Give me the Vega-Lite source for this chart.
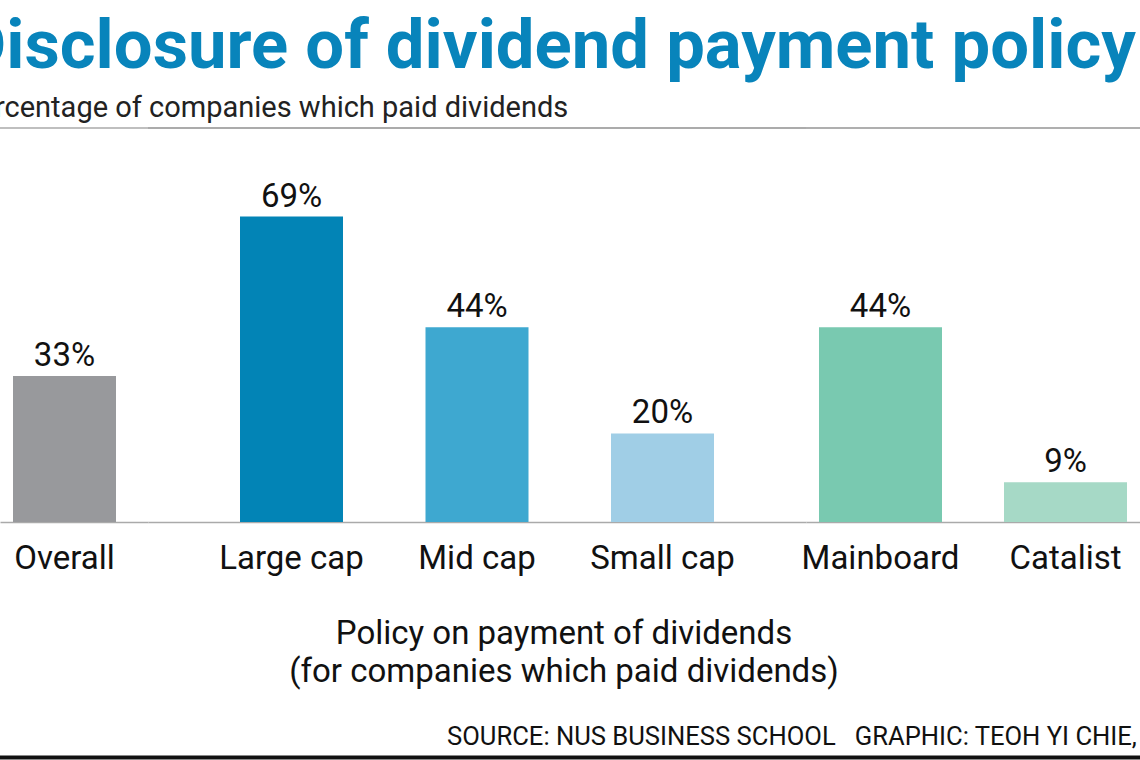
{
  "$schema": "https://vega.github.io/schema/vega-lite/v6.json",
  "padding": {"left": -39, "top": 13, "right": 0, "bottom": 0},
  "background": "white",
  "config": {
    "font": "Roboto",
    "view": {"stroke": null},
    "axis": {"grid": false}
  },
  "title": {
    "text": "Disclosure of dividend payment policy",
    "subtitle": "Percentage of companies which paid dividends",
    "anchor": "start",
    "dx": -37,
    "font": "Roboto",
    "fontSize": 68.8,
    "fontWeight": "bold",
    "color": "#0884bb",
    "subtitleFont": "Roboto",
    "subtitleFontSize": 29,
    "subtitleColor": "#222222",
    "subtitlePadding": 11,
    "offset": 3
  },
  "data": {
    "values": [
      {"group": "Overall", "category": "Overall", "pct": 0.33},
      {"group": "Size", "category": "Large cap", "pct": 0.69},
      {"group": "Size", "category": "Mid cap", "pct": 0.44},
      {"group": "Size", "category": "Small cap", "pct": 0.20},
      {"group": "Board", "category": "Mainboard", "pct": 0.44},
      {"group": "Board", "category": "Catalist", "pct": 0.09}
    ]
  },
  "spacing": 34,
  "vconcat": [
    {
      "title": {
        "text": ["Policy on payment of dividends", "(for companies which paid dividends)"],
        "orient": "bottom",
        "anchor": "middle",
        "dx": -6,
        "font": "Roboto",
        "fontSize": 33,
        "fontWeight": "normal",
        "lineHeight": 38,
        "color": "#111111",
        "offset": 43
      },
      "spacing": 0,
      "bounds": "flush",
      "hconcat": [
        {
          "width": 148,
          "height": 394,
          "transform": [{"filter": "datum.group == 'Overall'"}],
          "layer": [
            {
              "mark": {"type": "bar", "width": 103},
              "encoding": {
                "x": {
                  "field": "category", "type": "nominal", "sort": null,
                  "scale": {"type": "band", "paddingInner": 0, "paddingOuter": 0.5, "align": 0.3716},
                  "axis": {"title": null, "labelAngle": 0, "labelFontSize": 33, "labelColor": "#111111", "labelPadding": 20, "ticks": false, "domainColor": "#aaaaaa", "domainWidth": 1.5}
                },
                "y": {"field": "pct", "type": "quantitative", "scale": {"domain": [0, 0.89], "nice": false}, "axis": null},
                "color": {
                  "field": "category", "type": "nominal", "legend": null,
                  "scale": {
                    "domain": ["Overall", "Large cap", "Mid cap", "Small cap", "Mainboard", "Catalist"],
                    "range": ["#98999c", "#0284b6", "#3ea8d0", "#a0cee6", "#79c9b0", "#a6d9c6"]
                  }
                }
              }
            },
            {
              "mark": {"type": "text", "baseline": "alphabetic", "dy": -10, "fontSize": 33, "color": "#111111"},
              "encoding": {
                "x": {"field": "category", "type": "nominal", "sort": null},
                "y": {"field": "pct", "type": "quantitative"},
                "text": {"field": "pct", "type": "quantitative", "format": ".0%"}
              }
            },
            {
              "mark": {"type": "rule", "color": "#aaaaaa", "strokeWidth": 1.5},
              "encoding": {"y": {"datum": 0.89}}
            }
          ]
        },
        {
          "width": 658,
          "height": 394,
          "transform": [{"filter": "datum.group == 'Size'"}],
          "layer": [
            {
              "mark": {"type": "bar", "width": 103},
              "encoding": {
                "x": {
                  "field": "category", "type": "nominal", "sort": null,
                  "scale": {"type": "band", "paddingInner": 0, "paddingOuter": 0.2736},
                  "axis": {"title": null, "labelAngle": 0, "labelFontSize": 33, "labelColor": "#111111", "labelPadding": 20, "ticks": false, "domainColor": "#aaaaaa", "domainWidth": 1.5}
                },
                "y": {"field": "pct", "type": "quantitative", "scale": {"domain": [0, 0.89], "nice": false}, "axis": null},
                "color": {"field": "category", "type": "nominal", "legend": null}
              }
            },
            {
              "mark": {"type": "text", "baseline": "alphabetic", "dy": -10, "fontSize": 33, "color": "#111111"},
              "encoding": {
                "x": {"field": "category", "type": "nominal", "sort": null},
                "y": {"field": "pct", "type": "quantitative"},
                "text": {"field": "pct", "type": "quantitative", "format": ".0%"}
              }
            },
            {
              "mark": {"type": "rule", "color": "#aaaaaa", "strokeWidth": 1.5},
              "encoding": {"y": {"datum": 0.89}}
            }
          ]
        },
        {
          "width": 334,
          "height": 394,
          "transform": [{"filter": "datum.group == 'Board'"}],
          "layer": [
            {
              "mark": {"type": "bar", "width": 123},
              "encoding": {
                "x": {
                  "field": "category", "type": "nominal", "sort": null,
                  "scale": {"type": "band", "paddingInner": 0.1946, "paddingOuter": 0},
                  "axis": {"title": null, "labelAngle": 0, "labelFontSize": 33, "labelColor": "#111111", "labelPadding": 20, "ticks": false, "domainColor": "#aaaaaa", "domainWidth": 1.5}
                },
                "y": {"field": "pct", "type": "quantitative", "scale": {"domain": [0, 0.89], "nice": false}, "axis": null},
                "color": {"field": "category", "type": "nominal", "legend": null}
              }
            },
            {
              "mark": {"type": "text", "baseline": "alphabetic", "dy": -10, "fontSize": 33, "color": "#111111"},
              "encoding": {
                "x": {"field": "category", "type": "nominal", "sort": null},
                "y": {"field": "pct", "type": "quantitative"},
                "text": {"field": "pct", "type": "quantitative", "format": ".0%"}
              }
            },
            {
              "mark": {"type": "rule", "color": "#aaaaaa", "strokeWidth": 1.5},
              "encoding": {"y": {"datum": 0.89}}
            }
          ]
        }
      ]
    },
    {
      "width": 1140,
      "height": 1,
      "view": {"stroke": "#111111", "strokeWidth": 3},
      "title": {
        "text": "SOURCE: NUS BUSINESS SCHOOL\u00a0\u00a0\u00a0GRAPHIC: TEOH YI CHIE,",
        "anchor": "start",
        "dx": 447,
        "font": "Roboto",
        "fontSize": 25.6,
        "fontWeight": "normal",
        "color": "#111111",
        "offset": 1
      },
      "mark": {"type": "text", "text": ""},
      "encoding": {}
    }
  ]
}
